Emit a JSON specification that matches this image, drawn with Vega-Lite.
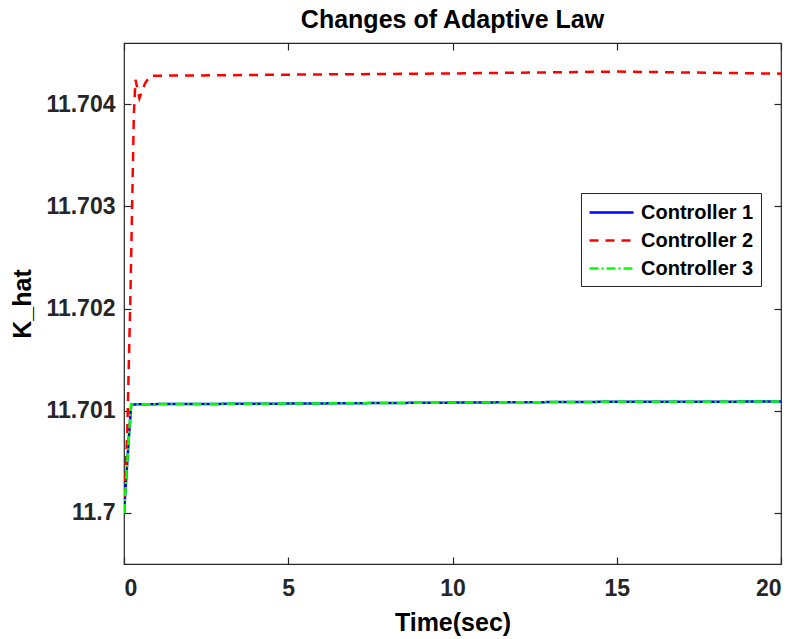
{
  "$schema": "https://vega.github.io/schema/vega-lite/v6.json",
  "width": 657,
  "height": 521,
  "autosize": {"type": "none"},
  "padding": {"left": 124, "top": 43, "right": 16, "bottom": 75},
  "background": "white",
  "config": {
    "font": "Liberation Sans",
    "view": {"stroke": "#262626", "strokeWidth": 1.2},
    "axis": {"grid": false, "domain": false, "tickColor": "#262626", "labelColor": "#262626", "titleColor": "#000000", "labelFont": "Liberation Sans", "titleFont": "Liberation Sans", "labelFontWeight": "bold", "titleFontWeight": "bold", "labelFontSize": 23, "titleFontSize": 25, "tickSize": -7, "tickWidth": 1.2}
  },
  "title": {"text": "Changes of Adaptive Law", "font": "Liberation Sans", "fontSize": 25, "fontWeight": "bold", "color": "#000000", "offset": 9, "anchor": "middle"},
  "data": {"values": [
    {"t": 0, "K": 11.7, "series": "Controller 1"},
    {"t": 0.05, "K": 11.70025, "series": "Controller 1"},
    {"t": 0.1, "K": 11.7005, "series": "Controller 1"},
    {"t": 0.15, "K": 11.70075, "series": "Controller 1"},
    {"t": 0.22, "K": 11.701062, "series": "Controller 1"},
    {"t": 1, "K": 11.701065, "series": "Controller 1"},
    {"t": 5, "K": 11.70107, "series": "Controller 1"},
    {"t": 10, "K": 11.70108, "series": "Controller 1"},
    {"t": 15, "K": 11.701088, "series": "Controller 1"},
    {"t": 20, "K": 11.70109, "series": "Controller 1"},
    {"t": 0, "K": 11.7, "series": "Controller 2"},
    {"t": 0.1, "K": 11.7008, "series": "Controller 2"},
    {"t": 0.2, "K": 11.7022, "series": "Controller 2"},
    {"t": 0.3, "K": 11.7039, "series": "Controller 2"},
    {"t": 0.35, "K": 11.70424, "series": "Controller 2"},
    {"t": 0.47, "K": 11.70406, "series": "Controller 2"},
    {"t": 0.55, "K": 11.70413, "series": "Controller 2"},
    {"t": 0.65, "K": 11.70421, "series": "Controller 2"},
    {"t": 0.8, "K": 11.70428, "series": "Controller 2"},
    {"t": 2, "K": 11.704282, "series": "Controller 2"},
    {"t": 5, "K": 11.70429, "series": "Controller 2"},
    {"t": 10, "K": 11.704302, "series": "Controller 2"},
    {"t": 15, "K": 11.70432, "series": "Controller 2"},
    {"t": 20, "K": 11.70430, "series": "Controller 2"},
    {"t": 0, "K": 11.7, "series": "Controller 3"},
    {"t": 0.05, "K": 11.70025, "series": "Controller 3"},
    {"t": 0.1, "K": 11.7005, "series": "Controller 3"},
    {"t": 0.15, "K": 11.70075, "series": "Controller 3"},
    {"t": 0.22, "K": 11.701062, "series": "Controller 3"},
    {"t": 1, "K": 11.701065, "series": "Controller 3"},
    {"t": 5, "K": 11.70107, "series": "Controller 3"},
    {"t": 10, "K": 11.70108, "series": "Controller 3"},
    {"t": 15, "K": 11.701088, "series": "Controller 3"},
    {"t": 20, "K": 11.70109, "series": "Controller 3"}
  ]},
  "layer": [
    {
      "mark": {"type": "line", "strokeWidth": 2.5, "clip": true},
      "encoding": {
        "x": {"field": "t", "type": "quantitative", "scale": {"domain": [0, 20], "nice": false, "zero": false}, "axis": {"values": [0, 5, 10, 15, 20], "title": "Time(sec)", "labelPadding": 20, "titlePadding": 10}},
        "y": {"field": "K", "type": "quantitative", "scale": {"domain": [11.6995, 11.70460], "nice": false, "zero": false}, "axis": {"values": [11.7, 11.701, 11.702, 11.703, 11.704], "format": ".5~r", "title": "K_hat", "labelPadding": 16, "titlePadding": 10}},
        "color": {"field": "series", "type": "nominal", "scale": {"domain": ["Controller 1", "Controller 2", "Controller 3"], "range": ["#0000ff", "#ff0000", "#00ff00"]}, "legend": {"title": null, "orient": "none", "legendX": 457, "legendY": 150, "fillColor": "white", "strokeColor": "#262626", "padding": 7, "symbolType": "M-2,0L2,0", "symbolSize": 484, "symbolStrokeWidth": 2.5, "labelFont": "Liberation Sans", "labelFontSize": 20, "labelFontWeight": "bold", "labelColor": "#000000", "rowPadding": 5, "labelOffset": 17, "symbolOffset": 11}},
        "strokeDash": {"field": "series", "type": "nominal", "scale": {"domain": ["Controller 1", "Controller 2", "Controller 3"], "range": [[1, 0], [9, 7], [9, 3, 2, 3]]}, "legend": {"title": null, "orient": "none", "legendX": 457, "legendY": 150}},
        "order": {"field": "t", "type": "quantitative"}
      }
    },
    {
      "mark": {"type": "point", "opacity": 0},
      "encoding": {
        "x": {"field": "t", "type": "quantitative", "axis": {"orient": "top", "values": [0, 5, 10, 15, 20], "labels": false, "title": null}},
        "y": {"field": "K", "type": "quantitative", "axis": {"orient": "right", "values": [11.7, 11.701, 11.702, 11.703, 11.704], "labels": false, "title": null}}
      }
    }
  ],
  "resolve": {"axis": {"x": "independent", "y": "independent"}}
}
